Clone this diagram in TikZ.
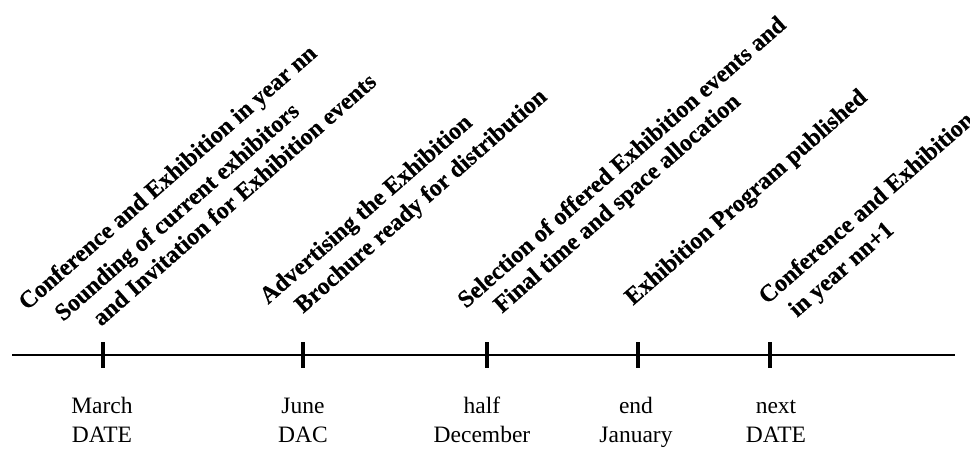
\documentclass[tikz,border=0pt]{standalone}
\usepackage{fontspec}
\setmainfont{Liberation Serif}[BoldFeatures={FakeBold=0.4}]
\begin{document}
\begin{tikzpicture}[x=1pt,y=-1pt,
  event/.style={anchor=base west,inner sep=0pt,rotate=41.3,
    font=\fontsize{24.1}{30}\selectfont\bfseries},
  datelbl/.style={anchor=base,inner sep=0pt,align=center,
    font=\fontsize{23.5}{29}\selectfont},
  axis/.style={line width=2.6pt},
  tickmark/.style={line width=4pt}]
\useasboundingbox (0,0) rectangle (970,449);
% axis
\coordinate (axL) at (12,355);
\coordinate (axR) at (955,355);
\draw[axis] (axL) -- (axR);
% ticks
\foreach \n/\x in {t1/103,t2/303,t3/486.5,t4/638,t5/770}{
  \coordinate (\n top) at (\x,342);
  \coordinate (\n bot) at (\x,368);
  \draw[tickmark] (\n top) -- (\n bot);
}
% date labels (base = baseline of last line)
\node[datelbl] (d1) at (102,442) {March\\DATE};
\node[datelbl] (d2) at (303,442) {June\\DAC};
\node[datelbl] (d3) at (482,442) {half\\December};
\node[datelbl] (d4) at (636,442) {end\\January};
\node[datelbl] (d5) at (776,442) {next\\DATE};
% event texts
\node[event] (e1a) at (27,311) {Conference and Exhibition in year nn};
\node[event] (e1b) at (63,322) {Sounding of current exhibitors};
\node[event] (e1c) at (101,327) {and Invitation for Exhibition events};
\node[event] (e2a) at (268,305) {Advertising the Exhibition};
\node[event] (e2b) at (303,314) {Brochure ready for distribution};
\node[event] (e3a) at (466,309) {Selection of offered Exhibition events and};
\node[event] (e3b) at (502,314) {Final time and space allocation};
\node[event] (e4) at (633,306) {Exhibition Program published};
\node[event] (e5a) at (767,305) {Conference and Exhibition};
\node[event] (e5b) at (797,318) {in year nn+1};
\end{tikzpicture}
\end{document}
